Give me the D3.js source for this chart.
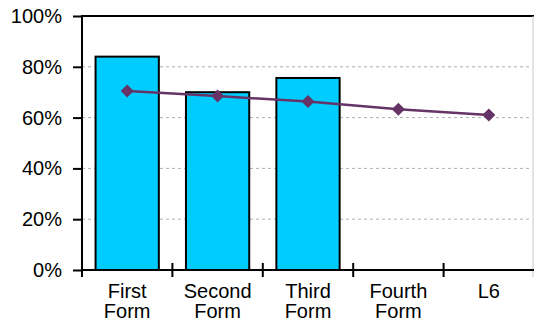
<!DOCTYPE html>
<html>
<head>
<meta charset="utf-8">
<script src="https://cdn.jsdelivr.net/npm/d3@7"></script>
<style>
  html, body { margin: 0; padding: 0; background: #fff; }
  svg { display: block; }
  text { font-family: "Liberation Sans", Arial, sans-serif; fill: #000; }
</style>
</head>
<body>
<svg id="chart" width="534" height="321"></svg>
<script>
// Categories and series
const categories = [["First", "Form"], ["Second", "Form"], ["Third", "Form"], ["Fourth", "Form"], ["L6"]];
const categoryKeys = ["First Form", "Second Form", "Third Form", "Fourth Form", "L6"];
const barValues = [0.84, 0.70, 0.756, null, null];
const lineValues = [0.705, 0.685, 0.663, 0.633, 0.61];
const yTicks = [0, 0.2, 0.4, 0.6, 0.8, 1.0];

const plot = { left: 82, right: 534, top: 16, bottom: 270 };

const svg = d3.select("#chart");

const x = d3.scaleBand()
  .domain(categoryKeys)
  .range([plot.left, plot.right])
  .paddingInner(0.3)
  .paddingOuter(0.15);

const y = d3.scaleLinear().domain([0, 1]).range([plot.bottom, plot.top]);

// Dotted gridlines
svg.append("g")
  .selectAll("line")
  .data(yTicks.filter(t => t > 0 && t < 1))
  .join("line")
  .attr("x1", plot.left)
  .attr("x2", plot.right - 3)
  .attr("y1", d => y(d))
  .attr("y2", d => y(d))
  .attr("stroke", "#b0b0b0")
  .attr("stroke-width", 1)
  .attr("stroke-dasharray", "3,3");

// Top border and right edge
svg.append("line")
  .attr("x1", plot.left).attr("x2", plot.right)
  .attr("y1", y(1)).attr("y2", y(1))
  .attr("stroke", "#000").attr("stroke-width", 2);
svg.append("line")
  .attr("x1", plot.right - 1).attr("x2", plot.right - 1)
  .attr("y1", y(1)).attr("y2", plot.bottom + 7)
  .attr("stroke", "#c8c8c8").attr("stroke-width", 1);

// Bars
svg.append("g")
  .selectAll("rect")
  .data(categoryKeys.map((k, i) => ({ k, v: barValues[i] })).filter(d => d.v != null))
  .join("rect")
  .attr("x", d => x(d.k))
  .attr("width", x.bandwidth())
  .attr("y", d => y(d.v))
  .attr("height", d => y(0) - y(d.v))
  .attr("fill", "#00ccff")
  .attr("stroke", "#000")
  .attr("stroke-width", 2);

// Y axis
const yAxis = d3.axisLeft(y)
  .tickValues(yTicks)
  .tickFormat(d3.format(".0%"))
  .tickSize(9)
  .tickPadding(11);
const gy = svg.append("g")
  .attr("transform", `translate(${plot.left},0)`)
  .call(yAxis);
gy.select(".domain").remove();
gy.selectAll(".tick line").attr("stroke", "#000").attr("stroke-width", 2);
gy.selectAll(".tick text").attr("font-size", 20).attr("font-family", "Liberation Sans, Arial, sans-serif");
gy.append("line")
  .attr("x1", 0).attr("x2", 0)
  .attr("y1", y(1) - 1).attr("y2", plot.bottom + 7)
  .attr("stroke", "#000").attr("stroke-width", 2);

// X axis: baseline and boundary ticks between categories
const boundaries = d3.range(categoryKeys.length + 1).map(i => plot.left + i * x.step());
const gx = svg.append("g");
gx.append("line")
  .attr("x1", plot.left).attr("x2", plot.right)
  .attr("y1", y(0)).attr("y2", y(0))
  .attr("stroke", "#000").attr("stroke-width", 2);
gx.selectAll("line.tk")
  .data(boundaries.slice(1, -1))
  .join("line")
  .attr("class", "tk")
  .attr("x1", d => d).attr("x2", d => d)
  .attr("y1", y(0) - 7).attr("y2", y(0) + 7)
  .attr("stroke", "#000").attr("stroke-width", 2);

// Category labels
const labels = svg.append("g")
  .selectAll("text")
  .data(categoryKeys.map((k, i) => ({ k, lines: categories[i] })))
  .join("text")
  .attr("x", d => x(d.k) + x.bandwidth() / 2)
  .attr("y", 298)
  .attr("text-anchor", "middle")
  .attr("font-size", 20);
labels.selectAll("tspan")
  .data(d => d.lines.map(l => ({ l, cx: x(d.k) + x.bandwidth() / 2 })))
  .join("tspan")
  .attr("x", d => d.cx)
  .attr("dy", (d, i) => i === 0 ? 0 : 20)
  .text(d => d.l);

// Line series
const linePts = categoryKeys.map((k, i) => [x(k) + x.bandwidth() / 2, y(lineValues[i])]);
svg.append("path")
  .datum(linePts)
  .attr("d", d3.line())
  .attr("fill", "none")
  .attr("stroke", "#663366")
  .attr("stroke-width", 2.5);

// Diamond markers: squares turned 45 degrees
svg.append("g")
  .selectAll("path")
  .data(linePts)
  .join("path")
  .attr("transform", d => `translate(${d[0]},${d[1]}) rotate(45)`)
  .attr("d", d3.symbol(d3.symbolSquare, 85))
  .attr("fill", "#663366");
</script>
</body>
</html>
